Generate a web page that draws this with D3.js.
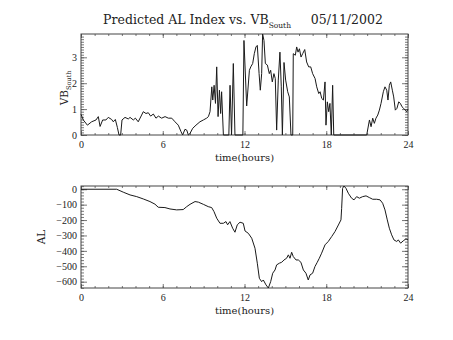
<!DOCTYPE html>
<html>
<head>
<meta charset="utf-8">
<script src="https://cdn.jsdelivr.net/npm/d3@7"></script>
<style>
  body { margin: 0; background: #fff; }
  svg { display: block; }
  text { fill: #222; }
</style>
</head>
<body>
<div id="chart"></div>
<script>
// top panel: VB south, hours vs value
const vbTime = [0, 0.17, 0.47, 0.78, 1.1, 1.27, 1.4, 1.59, 1.83, 2.0, 2.25, 2.37, 2.52, 2.67, 2.79, 2.91,
  3.01, 3.23, 3.47, 3.6, 3.84, 3.99, 4.2, 4.45, 4.57, 4.77, 4.94, 5.11, 5.31, 5.5, 5.68, 5.92,
  6.17, 6.41, 6.66, 6.9, 7.14, 7.34, 7.46, 7.63, 7.76, 7.88, 8.0, 8.2, 8.44, 8.73, 8.98, 9.22,
  9.35, 9.47, 9.6, 9.67, 9.77, 9.87, 9.96, 10.06, 10.16, 10.25, 10.32, 10.45, 10.85, 10.94, 11.05,
  11.18, 11.3, 11.88, 11.96, 12.16, 12.36, 12.46, 12.6, 12.72, 12.84, 12.94, 13.07, 13.16, 13.26,
  13.33, 13.43, 13.53, 13.68, 13.82, 13.92, 14.04, 14.16, 14.26, 14.36, 14.48, 14.6, 14.7, 14.78,
  14.9, 15.02, 15.17, 15.29, 15.41, 15.54, 15.58, 15.73, 15.83, 15.93, 16.03, 16.15, 16.27, 16.42,
  16.56, 16.71, 16.86, 17.0, 17.18, 17.3, 17.45, 17.55, 17.67, 17.79, 17.91, 17.98, 18.08, 18.18,
  18.27, 18.37, 18.47, 18.55, 20.97, 21.17, 21.29, 21.41, 21.53, 21.65, 21.78, 21.9, 22.02, 22.19,
  22.31, 22.44, 22.53, 22.63, 22.73, 22.85, 22.95, 23.07, 23.19, 23.32, 23.44, 23.56, 23.68, 23.8,
  23.9, 24.0];
const vbValue = [0.80, 0.58, 0.38, 0.51, 0.58, 0.71, 0.33, 0.58, 0.58, 0.68, 0.60, 0.51, 0.60, 0.29, 0, 0,
  0.58, 0.68, 0.62, 0.68, 0.58, 0.65, 0.51, 0.77, 0.90, 0.83, 0.86, 0.73, 0.81, 0.65, 0.73, 0.65,
  0.71, 0.65, 0.65, 0.51, 0.38, 0.13, 0, 0.22, 0.19, 0, 0.06, 0.26, 0.38, 0.51, 0.58, 0.65,
  0.71, 0.90, 1.86, 1.35, 1.92, 1.22, 2.63, 0.71, 1.73, 0.83, 1.67, 0, 0, 1.92, 0,
  2.76, 0, 0, 3.65, 1.12, 2.5, 2.63, 2.76, 3.14, 3.4, 3.46, 2.37, 1.73, 2.37,
  3.9, 3.65, 2.76, 2.7, 2.37, 2.5, 2.05, 2.37, 2.18, 0.19, 2.12, 3.2, 1.86, 0,
  2.8, 2.12, 1.67, 1.47, 0, 0, 3.14, 3.08, 3.4, 3.2, 3.33, 3.01, 3.14, 3.3,
  2.82, 2.63, 2.63, 2.37, 2.18, 1.86, 1.6, 1.67, 1.41, 1.35, 2.05, 0.38, 1.28, 0.9,
  1.22, 0, 1.92, 0, 0, 0.58, 0.32, 0.65, 0.45, 0.65, 0.77, 0.96, 1.22, 1.67,
  1.86, 1.73, 1.35, 1.92, 2.05, 1.73, 1.47, 0.96, 1.03, 1.28, 1.22, 1.09, 1.03, 0.96,
  0.9, 1.0];

// bottom panel: predicted AL
const alTime = [0, 2.62, 3.1, 3.6, 4.09, 4.57, 5.06, 5.43, 5.67, 6.16, 6.53, 7.02, 7.5, 7.76, 8.0, 8.37,
  8.62, 8.98, 9.34, 9.59, 9.76, 9.96, 10.2, 10.45, 10.64, 10.76, 10.93, 11.13, 11.3, 11.47, 11.67,
  11.91, 12.04, 12.28, 12.53, 12.77, 12.94, 13.09, 13.26, 13.38, 13.58, 13.75, 13.92, 14.07, 14.24,
  14.36, 14.56, 14.73, 14.9, 15.09, 15.22, 15.34, 15.46, 15.58, 15.78, 15.95, 16.14, 16.32, 16.51,
  16.68, 16.81, 17.0, 17.17, 17.34, 17.49, 17.66, 17.91, 18.15, 18.4, 18.64, 18.89, 19.08, 19.13,
  19.2, 19.3, 19.45, 19.62, 19.86, 20.04, 20.23, 20.43, 20.67, 20.92, 21.16, 21.41, 21.7, 21.95,
  22.14, 22.31, 22.48, 22.63, 22.8, 22.97, 23.17, 23.29, 23.46, 23.65, 23.85, 24.0];
const alValue = [0, 0, -19, -37, -48, -63, -80, -97, -117, -119, -128, -134, -132, -113, -98, -80,
  -84, -98, -113, -119, -145, -188, -221, -221, -210, -231, -210, -253, -279, -231, -214,
  -221, -271, -286, -318, -383, -480, -578, -600, -589, -621, -641, -600, -545, -524,
  -491, -480, -474, -459, -448, -426, -448, -409, -437, -459, -459, -474, -524, -545,
  -589, -556, -545, -502, -474, -448, -415, -361, -339, -307, -275, -232, -199, -124,
  6, 21, 6, -26, -58, -69, -48, -58, -48, -43, -54, -65, -65, -69,
  -91, -134, -199, -253, -296, -329, -339, -329, -350, -335, -322, -329];

const xTicks = [0, 6, 12, 18, 24];
const vbTicks = [0, 1, 2, 3];
const alTicks = [0, -100, -200, -300, -400, -500, -600];

const W = 453, H = 340;
const left = 81, right = 408;
const serif = "'Liberation Serif', 'DejaVu Serif', serif";

const svg = d3.select("#chart").append("svg")
  .attr("width", W)
  .attr("height", H)
  .attr("font-family", serif);

svg.append("rect").attr("width", W).attr("height", H).attr("fill", "#fff");

const x = d3.scaleLinear().domain([0, 24]).range([left, right]);

function panel(opts) {
  const y = d3.scaleLinear().domain(opts.domain).range([opts.bottom, opts.top]);
  const g = svg.append("g");
  const xMinor = d3.range(0, 24.01, 1);
  const ym = [];
  for (let v = Math.ceil(opts.domain[0] / opts.minorStep) * opts.minorStep; v <= opts.domain[1]; v += opts.minorStep) ym.push(v);

  // bottom axis with labels
  g.append("g")
    .attr("transform", `translate(0,${opts.bottom})`)
    .call(d3.axisBottom(x).tickValues(xTicks).tickSize(-4).tickPadding(6).tickFormat(d3.format("d")))
    .call(a => a.select(".domain").remove());
  g.append("g")
    .attr("transform", `translate(0,${opts.bottom})`)
    .call(d3.axisBottom(x).tickValues(xMinor).tickSize(-2).tickFormat(""))
    .call(a => a.select(".domain").remove());
  // top axis, no labels
  g.append("g")
    .attr("transform", `translate(0,${opts.top})`)
    .call(d3.axisTop(x).tickValues(xTicks).tickSize(-4).tickFormat(""))
    .call(a => a.select(".domain").remove());
  g.append("g")
    .attr("transform", `translate(0,${opts.top})`)
    .call(d3.axisTop(x).tickValues(xMinor).tickSize(-2).tickFormat(""))
    .call(a => a.select(".domain").remove());

  // left axis
  g.append("g")
    .attr("transform", `translate(${left},0)`)
    .call(d3.axisLeft(y).tickValues(opts.ticks).tickSize(-6).tickPadding(4)
      .tickFormat(d => d < 0 ? "\u2212" + Math.abs(d) : d))
    .call(a => a.select(".domain").remove());
  g.append("g")
    .attr("transform", `translate(${left},0)`)
    .call(d3.axisLeft(y).tickValues(ym).tickSize(-3).tickFormat(""))
    .call(a => a.select(".domain").remove());
  // right axis
  g.append("g")
    .attr("transform", `translate(${right},0)`)
    .call(d3.axisRight(y).tickValues(opts.ticks).tickSize(-6).tickFormat(""))
    .call(a => a.select(".domain").remove());
  g.append("g")
    .attr("transform", `translate(${right},0)`)
    .call(d3.axisRight(y).tickValues(ym).tickSize(-3).tickFormat(""))
    .call(a => a.select(".domain").remove());

  g.selectAll(".tick line").attr("stroke", "#555").attr("stroke-width", 0.8);
  g.selectAll(".tick text").attr("font-family", serif).attr("font-size", 10).attr("fill", "#222");

  g.append("rect")
    .attr("x", left).attr("y", opts.top)
    .attr("width", right - left).attr("height", opts.bottom - opts.top)
    .attr("fill", "none").attr("stroke", "#444").attr("stroke-width", 1);

  const line = d3.line()
    .x((d, i) => x(opts.t[i]))
    .y(d => y(d));

  g.append("path")
    .datum(opts.v)
    .attr("fill", "none")
    .attr("stroke", "#1a1a1a")
    .attr("stroke-width", 1)
    .attr("stroke-linejoin", "round")
    .attr("d", line);

  // x title
  g.append("text")
    .attr("x", (left + right) / 2)
    .attr("y", opts.bottom + 26)
    .attr("text-anchor", "middle")
    .attr("font-family", "'DejaVu Serif', serif")
    .attr("font-size", 10)
    .text("time(hours)");

  return g;
}

panel({ t: vbTime, v: vbValue, domain: [0, 3.9], top: 34, bottom: 135, ticks: vbTicks, minorStep: 0.1 });
panel({ t: alTime, v: alValue, domain: [-641, 21], top: 186, bottom: 288, ticks: alTicks, minorStep: 20 });

// title
const title = svg.append("text")
  .attr("x", 243)
  .attr("y", 24)
  .attr("text-anchor", "middle")
  .attr("font-family", "'DejaVu Serif', serif")
  .attr("font-size", 12.5)
  .style("white-space", "pre");
title.append("tspan").text("Predicted AL Index vs. VB");
title.append("tspan").attr("font-size", 7.5).attr("dy", 4).text("South");
title.append("tspan").attr("dy", -4).text("     05/11/2002");

// y titles
const vbLab = svg.append("text")
  .attr("transform", "translate(68,88) rotate(-90)")
  .attr("text-anchor", "middle")
  .attr("font-family", "'DejaVu Serif', serif")
  .attr("font-size", 10.5);
vbLab.append("tspan").text("VB");
vbLab.append("tspan").attr("font-size", 6.5).attr("dy", 3).text("South");

svg.append("text")
  .attr("transform", "translate(45,237) rotate(-90)")
  .attr("text-anchor", "middle")
  .attr("font-family", "'DejaVu Serif', serif")
  .attr("font-size", 10.5)
  .text("AL");
</script>
</body>
</html>
